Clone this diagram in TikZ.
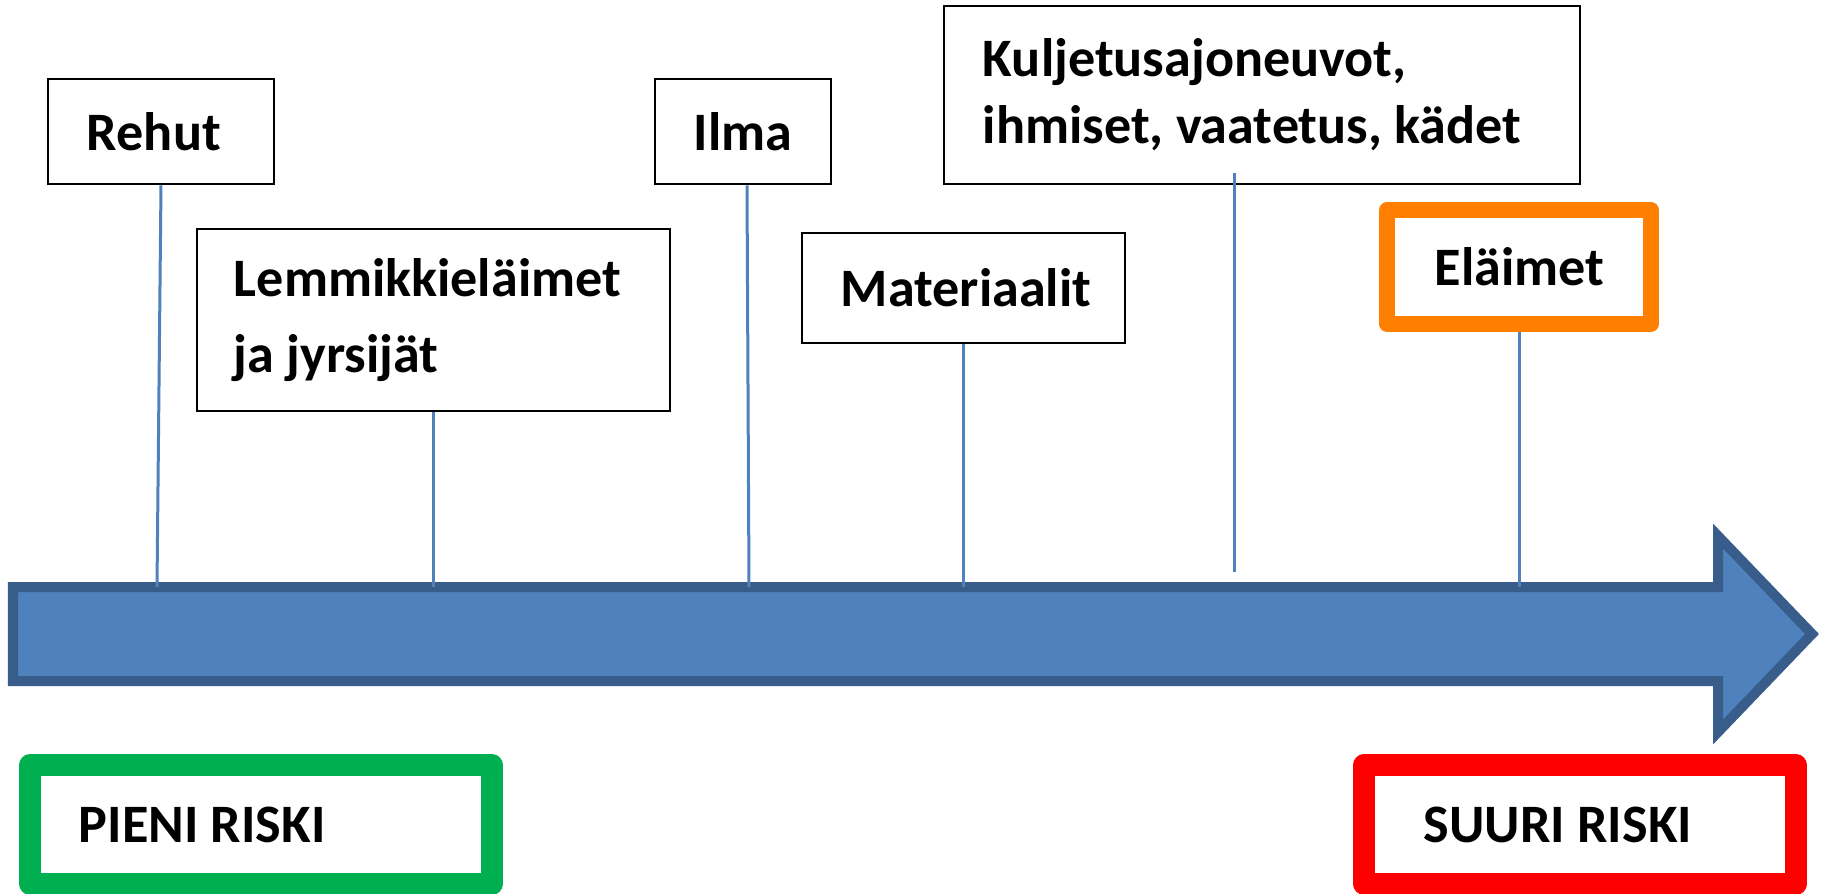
\documentclass[tikz,border=0pt]{standalone}
\usepackage{fontspec}
\setmainfont{Carlito}
\usetikzlibrary{calc}
\definecolor{arrowfill}{HTML}{4F81BD}
\definecolor{arrowline}{HTML}{385D8A}
\definecolor{riskorange}{HTML}{FF8000}
\definecolor{riskgreen}{HTML}{00B050}
\definecolor{riskred}{HTML}{FF0000}
\begin{document}
\begin{tikzpicture}[x=0.01cm, y=-0.01cm,
    txtbox/.style={draw, line width=0.025cm, fill=white, align=flush left, inner xsep=0pt, inner ysep=0pt,
      font=\bfseries\fontsize{15.4}{18}\selectfont},
    riskbox/.style={txtbox, draw=#1, line join=round},
    link/.style={draw=arrowfill, line width=0.03cm}]
\useasboundingbox (0,0) rectangle (1830,894);
\draw[arrowline, fill=arrowfill, line width=0.1cm] (13,587) -- (1718,587) -- (1718,536) -- (1812,634)
    -- (1718,732) -- (1718,681) -- (13,681) -- cycle;
\coordinate (shaft) at (0,587);
\node[txtbox, minimum width=2.26cm, minimum height=1.05cm, text width=1.48cm] (rehut) at (161,131.5) {Rehut};
\node[txtbox, minimum width=4.73cm, minimum height=1.82cm, text width=3.99cm,
    font=\bfseries\fontsize{15.4}{21.6}\selectfont] (lemmikki) at (433.5,320) {Lemmikkieläimet\\ja jyrsijät};
\node[txtbox, minimum width=1.76cm, minimum height=1.05cm, text width=0.98cm] (ilma) at (743,131.5) {Ilma};
\node[txtbox, minimum width=6.36cm, minimum height=1.78cm, text width=5.58cm,
    font=\bfseries\fontsize{15.4}{19}\selectfont] (kuljetus) at (1262,95) {Kuljetusajoneuvot,\\ihmiset, vaatetus, kädet};
\node[txtbox, minimum width=3.23cm, minimum height=1.10cm, text width=2.45cm] (materiaalit) at (963.5,288) {Materiaalit};
\node[riskbox=riskorange, line width=0.16cm, minimum width=2.64cm, minimum height=1.13cm, text width=1.68cm] (elaimet) at (1519,267) {Eläimet};
\node[riskbox=riskgreen, line width=0.22cm, minimum width=4.62cm, minimum height=1.18cm, text width=3.64cm] (pieni) at (261,824.5) {PIENI RISKI};
\node[riskbox=riskred, line width=0.22cm, minimum width=4.32cm, minimum height=1.18cm, text width=3.12cm] (suuri) at (1580,824.5) {SUURI RISKI};
% lines down to the arrow
\draw[link] (rehut.south) -- ($(rehut.south |- shaft)+(-4,0)$);
\draw[link] (lemmikki.south) -- (lemmikki.south |- shaft);
\draw[link] ($(ilma.south)+(4,0)$) -- ($(ilma.south |- shaft)+(6,0)$);
\draw[link] (materiaalit.south) -- (materiaalit.south |- shaft);
\draw[link] ($(kuljetus.south)+(-28,-12)$) -- ($(kuljetus.south |- shaft)+(-28,-15)$);
\draw[link] (elaimet.south) -- (elaimet.south |- shaft);
\end{tikzpicture}
\end{document}
